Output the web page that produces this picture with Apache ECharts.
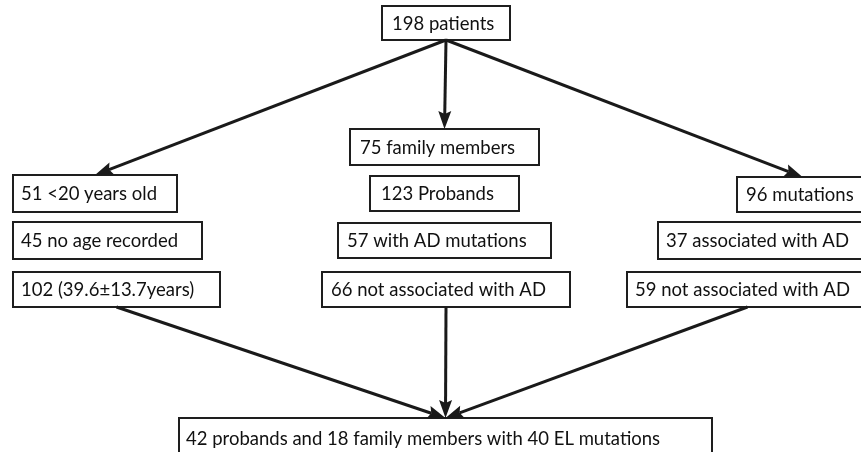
<!DOCTYPE html>
<html>
<head>
<meta charset="utf-8">
<script src="https://cdn.jsdelivr.net/npm/echarts@6/dist/echarts.min.js"></script>
<style>
html,body{margin:0;padding:0;background:#fff;}
#chart{width:861px;height:452px;}
</style>
</head>
<body>
<div id="chart"></div>
<script>
// ---- data ----
var labels = [
  '198 patients',
  '75 family members',
  '51 <20 years old',
  '123 Probands',
  '96 mutations',
  '45 no age recorded',
  '57 with AD mutations',
  '37 associated with AD',
  '102 (39.6\u00b113.7years)',
  '66 not associated with AD',
  '59 not associated with AD',
  '42 probands and 18 family members with 40 EL mutations'
];
var linkSources = [0, 0, 0, 8, 9, 10];
var linkTargets = [2, 1, 4, 11, 11, 11];

// ---- layout (pixel boxes: x0, y0, x1, y1, text left) ----
var layout = [
  [382, 6, 510, 40, 392],
  [350, 129, 539, 165, 360],
  [13, 175, 177, 212, 21],
  [370, 176, 519, 211, 381],
  [737, 177, 868, 212, 746],
  [13, 222, 202, 259, 21],
  [338, 223, 551, 258, 347],
  [658, 222, 868, 259, 666],
  [13, 272, 220, 307, 21],
  [322, 272, 570, 307, 331],
  [627, 272, 868, 307, 635],
  [179, 418, 712, 460, 186]
];

var boxData = labels.map(function (t, i) {
  var b = layout[i];
  return [b[0], b[1], b[2], b[3], b[4], t];
});
var linkData = linkSources.map(function (s, i) {
  var a = layout[s], b = layout[linkTargets[i]];
  return [(a[0] + a[2]) / 2, a[3], (b[0] + b[2]) / 2, b[1]];
});

var FONT = '18.5px Lato, "Open Sans", sans-serif';

var chart = echarts.init(document.getElementById('chart'), null, {renderer: 'canvas'});
chart.setOption({
  backgroundColor: '#ffffff',
  animation: false,
  grid: {left: 0, right: 0, top: 0, bottom: 0},
  xAxis: {type: 'value', min: 0, max: 861, show: false},
  yAxis: {type: 'value', min: 0, max: 452, inverse: true, show: false},
  series: [
    {
      type: 'custom',
      coordinateSystem: 'cartesian2d',
      clip: false,
      data: boxData,
      encode: {x: [0, 2], y: [1, 3]},
      renderItem: function (params, api) {
        var p0 = api.coord([api.value(0), api.value(1)]);
        var p1 = api.coord([api.value(2), api.value(3)]);
        var tx = api.coord([api.value(4), 0])[0];
        var txt = boxData[params.dataIndex][5];
        var cy = (p0[1] + p1[1]) / 2;
        if (params.dataIndex === 11) cy = p0[1] + 20;
        return {
          type: 'group',
          children: [
            {
              type: 'rect',
              shape: {x: p0[0], y: p0[1], width: p1[0] - p0[0], height: p1[1] - p0[1]},
              style: {fill: '#ffffff', stroke: '#1e1e1e', lineWidth: 2}
            },
            {
              type: 'text',
              style: {x: tx, y: cy + 1, text: txt, font: FONT, fill: '#111111', verticalAlign: 'middle', align: 'left'}
            }
          ]
        };
      },
      z: 2
    },
    {
      type: 'custom',
      coordinateSystem: 'cartesian2d',
      clip: false,
      data: linkData,
      encode: {x: [0, 2], y: [1, 3]},
      renderItem: function (params, api) {
        var a = api.coord([api.value(0), api.value(1)]);
        var b = api.coord([api.value(2), api.value(3)]);
        var dx = b[0] - a[0], dy = b[1] - a[1];
        var len = Math.sqrt(dx * dx + dy * dy);
        var ux = dx / len, uy = dy / len;
        var L = 18, W = 6.5;
        var base = [b[0] - ux * L, b[1] - uy * L];
        var back = [b[0] - ux * (L - 3), b[1] - uy * (L - 3)];
        var left = [base[0] - uy * W, base[1] + ux * W];
        var right = [base[0] + uy * W, base[1] - ux * W];
        return {
          type: 'group',
          children: [
            {
              type: 'line',
              shape: {x1: a[0], y1: a[1], x2: back[0], y2: back[1]},
              style: {stroke: '#1a1a1a', lineWidth: 3}
            },
            {
              type: 'polygon',
              shape: {points: [b, left, back, right]},
              style: {fill: '#1a1a1a'}
            }
          ]
        };
      },
      z: 3
    }
  ]
});
</script>
</body>
</html>
